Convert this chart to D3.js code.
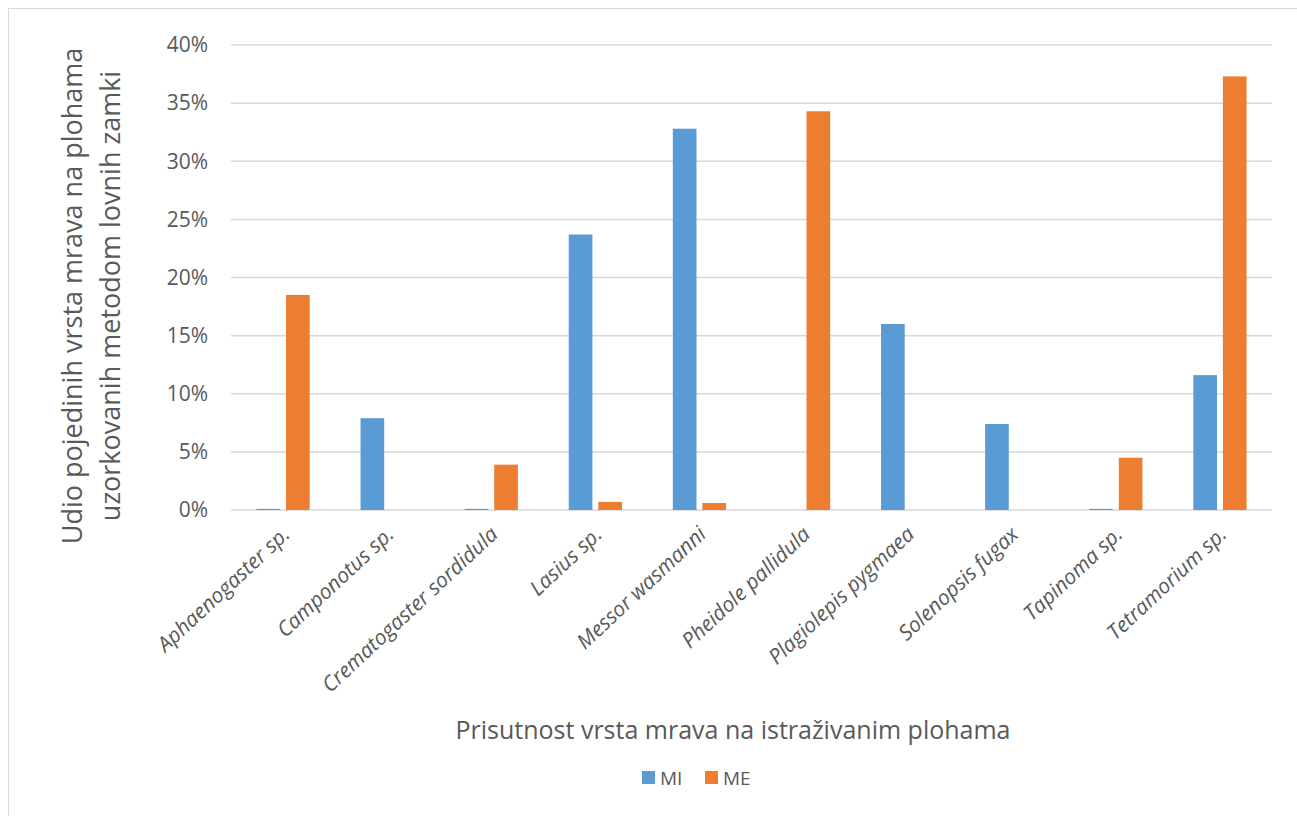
<!DOCTYPE html>
<html>
<head>
<meta charset="utf-8">
<script src="https://cdn.jsdelivr.net/npm/d3@7"></script>
<style>
  body { margin: 0; background: #fff; }
  text { font-family: "Open Sans", "Noto Sans", sans-serif; fill: #595959; }
</style>
</head>
<body>
<div id="chart"></div>
<script>
const categories = ['Aphaenogaster sp.', 'Camponotus sp.', 'Crematogaster sordidula', 'Lasius sp.',
  'Messor wasmanni', 'Pheidole pallidula', 'Plagiolepis pygmaea', 'Solenopsis fugax',
  'Tapinoma sp.', 'Tetramorium sp.']
const seriesNames = ['MI', 'ME']
const valuesMI = [0.1, 7.9, 0.1, 23.7, 32.8, 0, 16.0, 7.4, 0.1, 11.6]
const valuesME = [18.5, 0, 3.9, 0.7, 0.6, 34.3, 0, 0, 4.5, 37.3]
const yTicks = [0, 5, 10, 15, 20, 25, 30, 35, 40]
const colors = ['#5b9bd5', '#ed7d31']

const width = 1297, height = 816
const margin = { left: 231, right: 25, top: 45, bottom: 306 }

const svg = d3.select('#chart').append('svg')
  .attr('width', width)
  .attr('height', height)

// outer frame
svg.append('rect')
  .attr('x', 8.5).attr('y', 8.5)
  .attr('width', width + 10).attr('height', height + 10)
  .attr('fill', 'none').attr('stroke', '#d9d9d9').attr('stroke-width', 1)

const x = d3.scaleBand().domain(categories).range([margin.left, width - margin.right])
const xInner = d3.scaleBand().domain(seriesNames).range([0, x.bandwidth()]).paddingInner(0.2).paddingOuter(0.86)
const y = d3.scaleLinear().domain([0, 40]).range([height - margin.bottom, margin.top])

// gridlines
svg.append('g')
  .selectAll('line')
  .data(yTicks)
  .join('line')
  .attr('x1', margin.left).attr('x2', width - margin.right)
  .attr('y1', d => y(d)).attr('y2', d => y(d))
  .attr('stroke', '#d9d9d9').attr('stroke-width', 1.5)

// y tick labels
svg.append('g')
  .selectAll('text')
  .data(yTicks)
  .join('text')
  .attr('x', 208).attr('y', d => y(d))
  .attr('dy', '0.35em')
  .attr('text-anchor', 'end')
  .style('font-size', '21px')
  .text(d => d + '%')

// bars
const rows = categories.map((c, i) => ({ cat: c, vals: [valuesMI[i], valuesME[i]] }))
const groups = svg.append('g').selectAll('g')
  .data(rows)
  .join('g')
  .attr('transform', d => 'translate(' + x(d.cat) + ',0)')

groups.selectAll('rect')
  .data(d => d.vals.map((v, j) => ({ s: seriesNames[j], v, j })))
  .join('rect')
  .attr('x', d => xInner(d.s))
  .attr('width', xInner.bandwidth())
  .attr('y', d => y(d.v))
  .attr('height', d => y(0) - y(d.v))
  .attr('fill', d => colors[d.j])

// x labels
svg.append('g')
  .selectAll('text')
  .data(categories)
  .join('text')
  .attr('transform', d => 'translate(' + (x(d) + x.bandwidth() / 2 + 8) + ',' + (y(0) + 26) + ') rotate(-43)')
  .attr('text-anchor', 'end')
  .style('font-size', '21px')
  .style('font-style', 'italic')
  .text(d => d)

// y title
const yTitle = svg.append('text')
  .attr('transform', 'translate(82,' + 296 + ') rotate(-90)')
  .attr('text-anchor', 'middle')
  .style('font-size', '27px')
yTitle.append('tspan').attr('x', 0).attr('dy', 0).text('Udio pojedinih vrsta mrava na plohama')
yTitle.append('tspan').attr('x', 0).attr('dy', 38).text('uzorkovanih metodom lovnih zamki')

// x title
svg.append('text')
  .attr('x', 733).attr('y', 739)
  .attr('text-anchor', 'middle')
  .style('font-size', '25px')
  .text('Prisutnost vrsta mrava na istraživanim plohama')

// legend
const legend = svg.append('g').attr('transform', 'translate(642,771)')
const items = legend.selectAll('g')
  .data(seriesNames)
  .join('g')
  .attr('transform', (d, i) => 'translate(' + (i * 63) + ',0)')
items.append('rect')
  .attr('width', 13).attr('height', 13)
  .attr('fill', (d, i) => colors[i])
items.append('text')
  .attr('x', 18).attr('y', 7)
  .attr('dy', '0.35em')
  .style('font-size', '19px')
  .text(d => d)
</script>
</body>
</html>
